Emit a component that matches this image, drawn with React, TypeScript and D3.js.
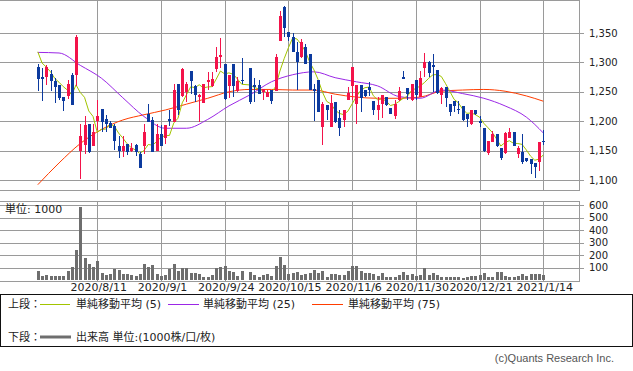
import React from 'react';
import * as d3 from 'd3';

// daily candles, 2020/7/17 .. 2021/1/14 (index 49 = 2020/10/1, no trading)
const opens = [
  1293, 1275, 1276, 1280, 1268, 1262, 1241, 1243, 1279, 1279,
  1150, 1160, 1195, 1158, 1201, 1221, 1204, 1197, 1192, 1157,
  1150, 1161, 1150, 1160, 1145, 1157, 1212, 1202, 1150, 1179,
  1171, 1203, 1199, 1264, 1243, 1250, 1285, 1260, 1242, 1231,
  1267, 1260, 1289, 1309, 1297, 1260, 1297, 1252, 1270, null,
  1290, 1262, 1262, 1250, 1242, 1253, 1252, 1337, 1394, 1351,
  1343, 1317, 1309, 1326, 1314, 1255, 1270, 1190, 1228, 1190,
  1233, 1205, 1202, 1236, 1260, 1229, 1262, 1253, 1258, 1234,
  1219, 1230, 1242, 1223, 1209, 1236, 1275, 1256, 1236, 1270,
  1242, 1290, 1301, 1296, 1287, 1245, 1258, 1229, 1234, 1220,
  1226, 1213, 1195, 1219, 1200, 1188, 1146, 1165, 1179, 1155,
  1146, 1172, 1181, 1145, 1148, 1137, 1135, 1129, 1131, 1166,
];
const highs = [
  1298, 1290, 1296, 1287, 1273, 1262, 1241, 1270, 1282, 1347,
  1195, 1208, 1195, 1195, 1236, 1221, 1211, 1200, 1196, 1174,
  1174, 1161, 1163, 1162, 1148, 1196, 1229, 1207, 1195, 1194,
  1194, 1219, 1264, 1264, 1291, 1267, 1285, 1262, 1246, 1263,
  1284, 1284, 1327, 1342, 1297, 1279, 1297, 1276, 1307, null,
  1290, 1273, 1270, 1254, 1253, 1253, 1315, 1387, 1396, 1351,
  1350, 1335, 1340, 1332, 1314, 1264, 1270, 1233, 1228, 1245,
  1233, 1219, 1219, 1258, 1293, 1262, 1262, 1253, 1267, 1234,
  1242, 1245, 1242, 1223, 1236, 1258, 1285, 1256, 1263, 1270,
  1285, 1316, 1302, 1315, 1287, 1258, 1258, 1229, 1234, 1234,
  1226, 1213, 1219, 1219, 1209, 1188, 1166, 1183, 1179, 1155,
  1182, 1188, 1181, 1157, 1179, 1137, 1135, 1129, 1165, 1185,
];
const lows = [
  1252, 1235, 1261, 1252, 1231, 1236, 1218, 1238, 1228, 1260,
  1102, 1144, 1146, 1157, 1185, 1182, 1182, 1188, 1151, 1137,
  1139, 1143, 1148, 1140, 1121, 1145, 1199, 1148, 1150, 1158,
  1162, 1191, 1199, 1211, 1242, 1233, 1246, 1233, 1199, 1231,
  1253, 1259, 1284, 1290, 1236, 1239, 1242, 1250, 1264, null,
  1229, 1233, 1246, 1236, 1241, 1230, 1252, 1337, 1343, 1337,
  1317, 1253, 1307, 1297, 1253, 1201, 1215, 1160, 1202, 1190,
  1197, 1174, 1190, 1236, 1236, 1196, 1216, 1242, 1243, 1211,
  1202, 1205, 1226, 1213, 1204, 1234, 1272, 1236, 1234, 1236,
  1242, 1275, 1275, 1250, 1247, 1230, 1224, 1209, 1216, 1213,
  1201, 1190, 1194, 1211, 1190, 1148, 1143, 1165, 1156, 1134,
  1145, 1172, 1157, 1137, 1128, 1131, 1111, 1103, 1116, 1160,
];
const closes = [
  1272, 1272, 1293, 1269, 1258, 1239, 1235, 1263, 1228, 1344,
  1174, 1194, 1147, 1182, 1209, 1199, 1196, 1188, 1167, 1150,
  1157, 1147, 1154, 1147, 1121, 1181, 1199, 1148, 1178, 1158,
  1194, 1201, 1253, 1219, 1289, 1263, 1269, 1245, 1244, 1263,
  1270, 1272, 1309, 1313, 1238, 1279, 1260, 1269, 1268, null,
  1232, 1258, 1247, 1254, 1250, 1235, 1309, 1379, 1359, 1343,
  1318, 1300, 1334, 1298, 1253, 1252, 1216, 1229, 1219, 1231,
  1199, 1188, 1219, 1248, 1293, 1262, 1239, 1243, 1253, 1219,
  1228, 1245, 1228, 1213, 1229, 1252, 1272, 1246, 1263, 1245,
  1273, 1301, 1282, 1293, 1248, 1256, 1240, 1216, 1226, 1219,
  1202, 1204, 1219, 1212, 1197, 1150, 1166, 1179, 1157, 1137,
  1180, 1181, 1157, 1155, 1130, 1133, 1128, 1122, 1165, 1165,
];
const volumes = [
  72, 35, 40, 32, 32, 32, 32, 72, 107, 240,
  581, 179, 128, 107, 152, 59, 40, 48, 88, 80,
  48, 48, 40, 35, 48, 128, 107, 120, 48, 35,
  40, 88, 128, 72, 99, 99, 59, 59, 48, 27,
  27, 40, 99, 107, 112, 72, 67, 32, 72, null,
  67, 40, 27, 40, 48, 35, 112, 181, 120, 48,
  59, 61, 40, 45, 59, 80, 53, 72, 21, 48,
  48, 40, 40, 72, 112, 112, 72, 53, 59, 48,
  35, 59, 27, 27, 27, 40, 61, 40, 48, 35,
  40, 93, 40, 53, 40, 21, 27, 21, 27, 27,
  19, 27, 35, 32, 40, 53, 27, 27, 61, 61,
  32, 27, 27, 32, 48, 32, 48, 45, 48, 40,
];

// first four 5-day averages (need closes before the window)
const ma5Start = [1318, 1299, 1292, 1284];

// 25 / 75 day averages read every 5 sessions
const maIdx = [0, 5, 10, 15, 20, 25, 30, 35, 40, 45, 50, 55, 60, 65, 70, 75, 80, 85, 90, 95, 100, 105, 110, 115, 119];
const ma25 = [1317, 1316, 1295, 1273, 1240, 1208, 1188, 1188, 1203, 1226, 1245, 1267, 1279, 1284, 1274, 1267, 1260, 1242, 1239, 1253, 1247, 1239, 1226, 1207, 1180];
const ma75 = [1092, 1129, 1162, 1186, 1202, 1211, 1219, 1229, 1239, 1250, 1254, 1254, 1253, 1253, 1246, 1241, 1239, 1239, 1241, 1251, 1253, 1254, 1251, 1243, 1234];

const tickIdx = [14, 29, 44, 59, 74, 89, 104, 119];
const tickLabels = ['2020/8/11', '2020/9/1', '2020/9/24', '2020/10/15', '2020/11/6', '2020/11/30', '2020/12/21', '2021/1/14'];
const priceTicks = [1100, 1150, 1200, 1250, 1300, 1350];
const volTicks = [100, 200, 300, 400, 500, 600];

const RED = '#f3134a';
const BLUE = '#0c3a9e';
const GRID = '#9a9a9a';
const FONT = '"DejaVu Sans", "Noto Sans CJK JP", sans-serif';

const App = () => {
  const x = d3.scaleLinear().domain([0, 119]).range([37.8, 543.3]);
  const y = d3.scaleLinear().domain([1100, 1350]).range([180, 33]);
  const yv = d3.scaleLinear().domain([0, 600]).range([280, 205]);
  const fmt = d3.format(',');

  // 5-day simple average over trading sessions
  const valid = closes.map((c, i) => ({ i, c })).filter((d) => d.c != null);
  const ma5 = valid.map((d, k) => {
    if (k < 4) return { i: d.i, v: ma5Start[k] };
    const w = valid.slice(k - 4, k + 1);
    return { i: d.i, v: d3.mean(w, (e) => e.c) };
  });

  const line = d3
    .line<any>()
    .x((d) => x(d.i))
    .y((d) => y(d.v));
  const smooth = d3
    .line<any>()
    .x((d) => x(d.i))
    .y((d) => y(d.v))
    .curve(d3.curveMonotoneX);

  const ma25pts = maIdx.map((i, k) => ({ i, v: ma25[k] }));
  const ma75pts = maIdx.map((i, k) => ({ i, v: ma75[k] }));

  return (
    <svg width={633} height={371} style={{ position: 'absolute', left: 0, top: 0, background: '#fff' }} fontFamily={FONT}>
      {/* price panel */}
      <g shapeRendering="crispEdges">
        {priceTicks.map((t) => (
          <line key={t} x1={0} x2={584} y1={Math.round(y(t)) + 0.5} y2={Math.round(y(t)) + 0.5} stroke={GRID} />
        ))}
        {tickIdx.map((t) => (
          <line key={t} x1={Math.round(x(t)) + 0.5} x2={Math.round(x(t)) + 0.5} y1={0} y2={190} stroke={GRID} />
        ))}
        <rect x={-1} y={0.5} width={580.5} height={189.5} fill="none" stroke={GRID} />
      </g>
      {priceTicks.map((t) => (
        <text key={t} x={589} y={y(t)} dy="0.36em" fontSize={10} fill="#222">
          {fmt(t)}
        </text>
      ))}

      <path d={smooth(ma75pts) || ''} fill="none" stroke="#ff3d00" strokeWidth={1} />
      <path d={smooth(ma25pts) || ''} fill="none" stroke="#9b27e6" strokeWidth={1} />
      <path d={line(ma5) || ''} fill="none" stroke="#a2c400" strokeWidth={1} />

      <g shapeRendering="crispEdges">
        {opens.map((o, i) => {
          if (o == null) return null;
          const c = closes[i];
          const up = c >= o;
          const col = up ? RED : BLUE;
          const cx = Math.round(x(i));
          const top = y(Math.max(o, c));
          const bot = y(Math.min(o, c));
          return (
            <g key={i}>
              <line x1={cx + 0.5} x2={cx + 0.5} y1={y(highs[i])} y2={y(lows[i])} stroke={col} />
              <rect x={cx - 1} y={top} width={3.2} height={Math.max(1, bot - top)} fill={col} />
            </g>
          );
        })}
      </g>

      {/* volume panel */}
      <g shapeRendering="crispEdges">
        {volTicks.map((t) => (
          <line key={t} x1={0} x2={584} y1={Math.round(yv(t)) + 0.5} y2={Math.round(yv(t)) + 0.5} stroke={GRID} />
        ))}
        {tickIdx.map((t) => (
          <line key={t} x1={Math.round(x(t)) + 0.5} x2={Math.round(x(t)) + 0.5} y1={201} y2={281} stroke={GRID} />
        ))}
        <rect x={-1} y={201.5} width={580.5} height={79.5} fill="none" stroke={GRID} />
        {volumes.map((v, i) =>
          v == null ? null : (
            <rect key={i} x={Math.round(x(i)) - 1} y={yv(v)} width={3} height={yv(0) - yv(v)} fill="#6e6e6e" />
          )
        )}
      </g>
      {volTicks.map((t) => (
        <text key={t} x={589} y={yv(t)} dy="0.36em" fontSize={10} fill="#222">
          {t}
        </text>
      ))}
      <text x={5} y={213} fontSize={11} fill="#222">
        単位: 1000
      </text>

      {tickLabels.map((l, k) => (
        <text key={l} x={x(tickIdx[k]) + 1.5} y={291} fontSize={11} textAnchor="middle" fill="#222">
          {l}
        </text>
      ))}

      {/* legend */}
      <rect x={0.5} y={294.5} width={631.5} height={51.5} fill="none" stroke="#111" shapeRendering="crispEdges" />
      <g fontSize={11} fill="#222">
        <text x={8} y={308}>上段：</text>
        <line x1={40} x2={70} y1={304.5} y2={304.5} stroke="#a2c400" />
        <text x={76} y={308}>単純移動平均 (5)</text>
        <line x1={168} x2={199} y1={304.5} y2={304.5} stroke="#9b27e6" />
        <text x={203} y={308}>単純移動平均 (25)</text>
        <line x1={312} x2={343} y1={304.5} y2={304.5} stroke="#ff3d00" />
        <text x={348} y={308}>単純移動平均 (75)</text>
        <text x={8} y={341}>下段：</text>
        <line x1={40} x2={71} y1={337} y2={337} stroke="#6e6e6e" strokeWidth={3} />
        <text x={76} y={341}>出来高 単位:(1000株/口/枚)</text>
      </g>
      <text x={614} y={362} fontSize={11} textAnchor="end" fill="#555" fontFamily='"Liberation Sans", sans-serif'>
        (c)Quants Research Inc.
      </text>
    </svg>
  );
};

export default App;
